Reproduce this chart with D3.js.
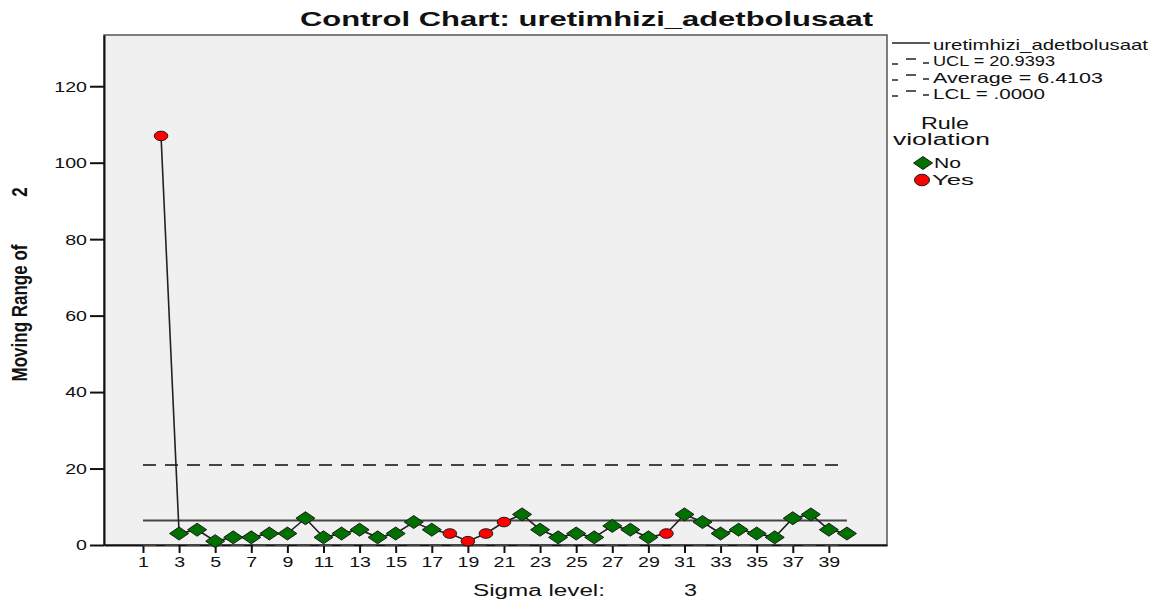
<!DOCTYPE html>
<html lang="en">
  <head>
    <meta charset="utf-8">
    <title>Control Chart</title>
    <script src="https://d3js.org/d3.v7.min.js"></script>
    <style>
      body { margin: 0; background: #fff; }
      text { font-family: "Liberation Sans", Arial, sans-serif; fill: #111; }
    </style>
  </head>
  <body>
    <svg width="1158" height="601"></svg>
    <script type="text/javascript">
      // moving range of 2, sample numbers 2..40 (sample 1 has no range)
      var samples = d3.range(2, 41);
      var movingRange = [107, 3, 4, 1, 2, 2, 3, 3, 7, 2, 3, 4, 2, 3, 6, 4, 3, 1, 3, 6,
                         8, 4, 2, 3, 2, 5, 4, 2, 3, 8, 6, 3, 4, 3, 2, 7, 8, 4, 3];
      var violated = [1, 0, 0, 0, 0, 0, 0, 0, 0, 0, 0, 0, 0, 0, 0, 0, 1, 1, 1, 1,
                      0, 0, 0, 0, 0, 0, 0, 0, 1, 0, 0, 0, 0, 0, 0, 0, 0, 0, 0];
      var xTicks = d3.range(1, 40, 2);
      var yTicks = [0, 20, 40, 60, 80, 100, 120];
      var ucl = 20.9393, average = 6.4103, lcl = 0;
      var legendLines = ["uretimhizi_adetbolusaat", "UCL = 20.9393", "Average = 6.4103", "LCL = .0000"];
      var legendWidths = [215, 122, 170, 112];

      var svg = d3.select("svg");
      var plot = { left: 104, right: 887, top: 35, bottom: 545 };
      var stretch = 1.4; // the original is wide, text looks pulled sideways

      var x = d3.scaleLinear().domain([-1.16, 42.22]).range([plot.left, plot.right]);
      var y = d3.scaleLinear().domain([0, 133.4]).range([plot.bottom, plot.top]);

      var data = samples.map(function(s, i) {
        return { n: s, v: movingRange[i], bad: violated[i] === 1 };
      });

      // title
      svg.append("text")
          .attr("x", 300).attr("y", 26)
          .attr("textLength", 573).attr("lengthAdjust", "spacingAndGlyphs")
          .style("font-size", "21px").style("font-weight", "bold")
          .text("Control Chart: uretimhizi_adetbolusaat");

      // plot background and frame
      svg.append("rect")
          .attr("x", plot.left).attr("y", plot.top)
          .attr("width", plot.right - plot.left).attr("height", plot.bottom - plot.top)
          .attr("fill", "#f0f0f0").attr("stroke", "#555").attr("stroke-width", 1.5);

      // axes
      var xAxis = svg.append("g")
          .attr("transform", "translate(0," + plot.bottom + ")")
          .call(d3.axisBottom(x).tickValues(xTicks).tickSize(8).tickSizeOuter(0).tickPadding(6).tickFormat(d3.format("d")));
      var yAxis = svg.append("g")
          .attr("transform", "translate(" + plot.left + ",0)")
          .call(d3.axisLeft(y).tickValues(yTicks).tickSize(14).tickSizeOuter(0).tickPadding(3));
      [xAxis, yAxis].forEach(function(a) {
        a.select(".domain").attr("stroke", "#111").attr("stroke-width", 2);
        a.selectAll(".tick line").attr("stroke", "#111").attr("stroke-width", 2);
        a.selectAll(".tick text").style("font-size", "14px")
            .style("font-family", "Liberation Sans, Arial, sans-serif").attr("fill", "#111")
            .attr("transform", "scale(" + stretch + ",1)");
      });
      yAxis.selectAll(".tick text").attr("x", -17 / stretch).attr("dy", "0.35em");
      xAxis.selectAll(".tick text").attr("y", 12);

      // axis titles
      svg.append("text")
          .attr("transform", "translate(27,313) rotate(-90) scale(1,1.3)")
          .attr("text-anchor", "middle")
          .style("font-size", "17px").style("font-weight", "bold")
          .text("Moving Range of");
      svg.append("text")
          .attr("transform", "translate(27,192) rotate(-90) scale(1,1.3)")
          .attr("text-anchor", "middle")
          .style("font-size", "17px").style("font-weight", "bold")
          .text("2");
      svg.append("text")
          .attr("x", 473).attr("y", 596)
          .attr("textLength", 132).attr("lengthAdjust", "spacingAndGlyphs")
          .style("font-size", "16px")
          .text("Sigma level:");
      svg.append("text")
          .attr("x", 684).attr("y", 596)
          .attr("textLength", 13).attr("lengthAdjust", "spacingAndGlyphs")
          .style("font-size", "16px")
          .text("3");

      // control limits
      svg.append("line")
          .attr("x1", x(1)).attr("x2", x(40))
          .attr("y1", y(ucl)).attr("y2", y(ucl))
          .attr("stroke", "#444").attr("stroke-width", 2)
          .attr("stroke-dasharray", "13,9");
      svg.append("line")
          .attr("x1", x(1)).attr("x2", x(40))
          .attr("y1", y(average)).attr("y2", y(average))
          .attr("stroke", "#444").attr("stroke-width", 2);
      svg.append("line")
          .attr("x1", x(1)).attr("x2", x(40))
          .attr("y1", y(lcl)).attr("y2", y(lcl))
          .attr("stroke", "#444").attr("stroke-width", 2)
          .attr("stroke-dasharray", "13,9");

      // series line
      svg.append("path")
          .datum(data)
          .attr("fill", "none").attr("stroke", "#222").attr("stroke-width", 1.6)
          .attr("d", d3.line().x(function(d) { return x(d.n); }).y(function(d) { return y(d.v); }));

      var diamond = "M-9.5,0L0,-6.5L9.5,0L0,6.5Z";

      var pts = svg.append("g").selectAll("g").data(data).enter().append("g")
          .attr("transform", function(d) { return "translate(" + x(d.n) + "," + y(d.v) + ")"; });
      pts.filter(function(d) { return !d.bad; }).append("path")
          .attr("d", diamond).attr("fill", "#007000").attr("stroke", "#1a1a1a").attr("stroke-width", 1);
      pts.filter(function(d) { return d.bad; }).append("ellipse")
          .attr("rx", 6.8).attr("ry", 4.8).attr("fill", "#ff0000").attr("stroke", "#1a1a1a").attr("stroke-width", 1);

      // legend
      var lg = svg.append("g");
      lg.append("line").attr("x1", 892).attr("x2", 930).attr("y1", 43).attr("y2", 43)
          .attr("stroke", "#222").attr("stroke-width", 1.5);
      [62, 78, 94].forEach(function(cy) {
        lg.append("line").attr("x1", 892).attr("x2", 898).attr("y1", cy + 2).attr("y2", cy + 2).attr("stroke", "#222").attr("stroke-width", 1.5);
        lg.append("line").attr("x1", 906).attr("x2", 916).attr("y1", cy - 3).attr("y2", cy - 3).attr("stroke", "#222").attr("stroke-width", 1.5);
        lg.append("line").attr("x1", 923).attr("x2", 929).attr("y1", cy + 1).attr("y2", cy + 1).attr("stroke", "#222").attr("stroke-width", 1.5);
      });
      lg.selectAll("text.item").data(legendLines).enter().append("text")
          .attr("class", "item")
          .attr("x", 933).attr("y", function(d, i) { return 50 + i * 16.3; })
          .attr("textLength", function(d, i) { return legendWidths[i]; })
          .attr("lengthAdjust", "spacingAndGlyphs")
          .style("font-size", "15px")
          .text(function(d) { return d; });
      lg.append("text").attr("x", 921).attr("y", 129)
          .attr("textLength", 48).attr("lengthAdjust", "spacingAndGlyphs")
          .style("font-size", "16px").text("Rule");
      lg.append("text").attr("x", 893).attr("y", 145)
          .attr("textLength", 97).attr("lengthAdjust", "spacingAndGlyphs")
          .style("font-size", "16px").text("violation");
      lg.append("path").attr("d", diamond).attr("transform", "translate(923,163)")
          .attr("fill", "#007000").attr("stroke", "#1a1a1a");
      lg.append("ellipse").attr("cx", 922).attr("cy", 180).attr("rx", 7.5).attr("ry", 5.8)
          .attr("fill", "#ff0000").attr("stroke", "#1a1a1a");
      lg.append("text").attr("x", 934).attr("y", 168)
          .attr("textLength", 27).attr("lengthAdjust", "spacingAndGlyphs")
          .style("font-size", "15px").text("No");
      lg.append("text").attr("x", 932).attr("y", 185)
          .attr("textLength", 42).attr("lengthAdjust", "spacingAndGlyphs")
          .style("font-size", "15px").text("Yes");
    </script>
  </body>
</html>
